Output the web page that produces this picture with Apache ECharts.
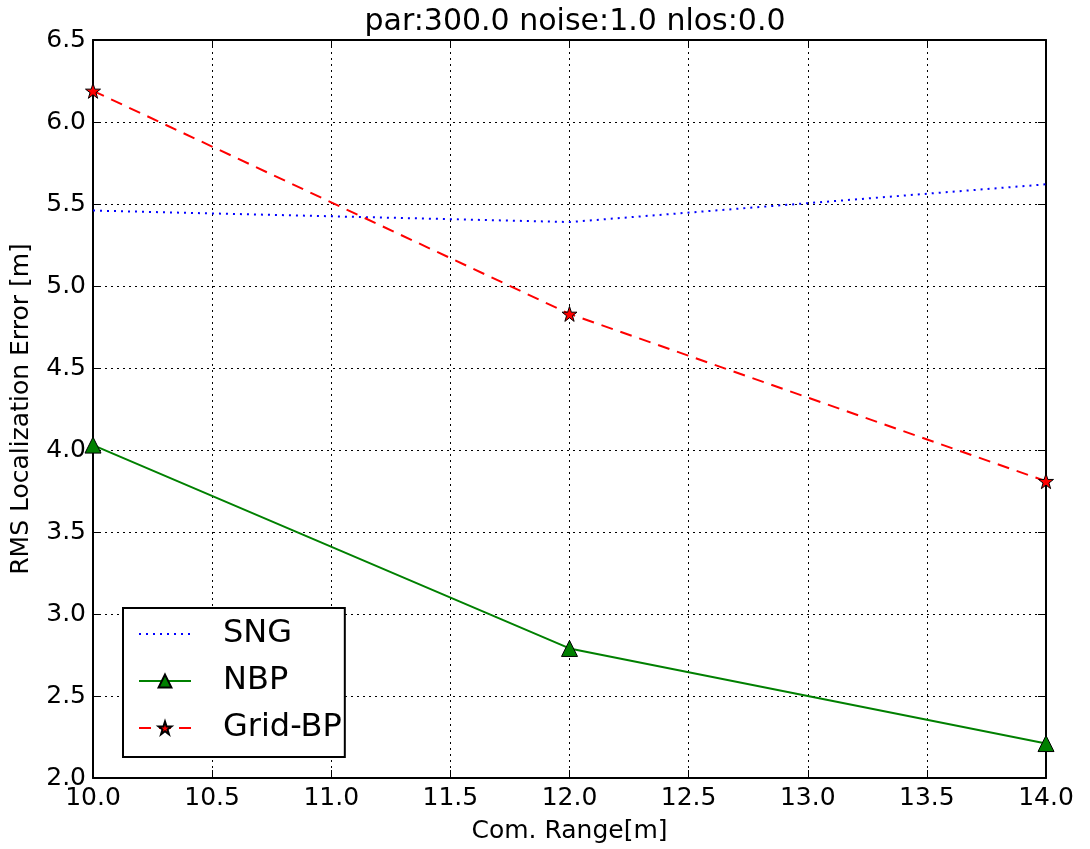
<!DOCTYPE html>
<html>
<head>
<meta charset="utf-8">
<script src="https://cdn.jsdelivr.net/npm/echarts@6/dist/echarts.min.js"></script>
<style>
    html, body { margin: 0; padding: 0; background: #fff; }
    #chart { width: 1090px; height: 849px; }
</style>
</head>
<body>
<div id="chart"></div>
<script>
// 数据
const ranges = [10, 12, 14];
const sng = [5.46, 5.39, 5.62];
const nbp = [4.03, 2.79, 2.21];
const gridBp = [6.19, 4.83, 3.81];

const pairs = (ys) => ranges.map((x, i) => [x, ys[i]]);

let myChart = echarts.init(document.getElementById("chart"));
const font = "DejaVu Sans";
let option = {
    animation: false,
    textStyle: { fontFamily: font },
    title: {
        text: "par:300.0 noise:1.0 nlos:0.0",
        left: 570,
        textAlign: "center",
        top: 2,
        textStyle: { fontFamily: font, fontSize: 30, fontWeight: "normal", color: "#000" }
    },
    grid: { left: 93, right: 44, top: 40, bottom: 71, containLabel: false, outerBoundsMode: "none" },
    legend: {
        orient: "vertical",
        left: 123,
        top: 608,
        padding: [10, 3, 13, 15],
        itemGap: 15,
        itemWidth: 52,
        itemHeight: 16,
        borderColor: "#000",
        borderWidth: 2,
        borderRadius: 0,
        backgroundColor: "#fff",
        textStyle: { fontFamily: font, fontSize: 32, lineHeight: 30, color: "#000", padding: [0, 0, 0, 27] },
        data: [
            { name: "SNG", itemStyle: { opacity: 0 } },
            "NBP",
            "Grid-BP"
        ]
    },
    xAxis: [{
        type: "value",
        min: 10, max: 14, interval: 0.5,
        name: "Com. Range[m]",
        nameLocation: "middle",
        nameGap: 41,
        nameTextStyle: { fontFamily: font, fontSize: 25, color: "#000" },
        axisLine: { lineStyle: { color: "#000", width: 2 } },
        axisTick: { inside: true, length: 8, lineStyle: { color: "#000", width: 1 } },
        axisLabel: { color: "#000", fontSize: 25, margin: 8, formatter: (v) => v.toFixed(1) },
        splitLine: { show: true, lineStyle: { color: "#000", width: 1, type: [2, 4] } }
    }, {
        type: "value",
        position: "top",
        min: 10, max: 14, interval: 0.5,
        axisLine: { lineStyle: { color: "#000", width: 2 } },
        axisTick: { inside: true, length: 8, lineStyle: { color: "#000", width: 1 } },
        axisLabel: { show: false },
        splitLine: { show: false }
    }],
    yAxis: [{
        type: "value",
        min: 2.0, max: 6.5, interval: 0.5,
        name: "RMS Localization Error [m]",
        nameLocation: "middle",
        nameGap: 59,
        nameTextStyle: { fontFamily: font, fontSize: 25, color: "#000" },
        axisLine: { show: true, lineStyle: { color: "#000", width: 2 } },
        axisTick: { show: true, inside: true, length: 8, lineStyle: { color: "#000", width: 1 } },
        axisLabel: { color: "#000", fontSize: 25, margin: 7, formatter: (v) => v.toFixed(1) },
        splitLine: { show: true, lineStyle: { color: "#000", width: 1, type: [2, 4] } }
    }, {
        type: "value",
        position: "right",
        min: 2.0, max: 6.5, interval: 0.5,
        axisLine: { show: true, lineStyle: { color: "#000", width: 2 } },
        axisTick: { show: true, inside: true, length: 8, lineStyle: { color: "#000", width: 1 } },
        axisLabel: { show: false },
        splitLine: { show: false }
    }],
    series: [
        {
            name: "SNG",
            type: "line",
            data: pairs(sng),
            showSymbol: false,
            symbol: "none",
            color: "#0000ff",
            lineStyle: { color: "#0000ff", width: 2, type: [2, 5] },
            z: 3
        },
        {
            name: "NBP",
            type: "line",
            data: pairs(nbp),
            symbol: "triangle",
            symbolSize: 16,
            color: "#008000",
            itemStyle: { color: "#008000", borderColor: "#000", borderWidth: 1 },
            lineStyle: { color: "#008000", width: 2 },
            z: 3
        },
        {
            name: "Grid-BP",
            type: "line",
            data: pairs(gridBp),
            symbol: "path://M50,0 L61.8,35.1 L97.6,35.1 L68.8,56.7 L79.4,90.9 L50,69.1 L20.6,90.9 L31.2,56.7 L2.4,35.1 L38.2,35.1 Z",
            symbolSize: 15,
            color: "#ff0000",
            itemStyle: { color: "#ff0000", borderColor: "#000", borderWidth: 1 },
            lineStyle: { color: "#ff0000", width: 2, type: [12, 8] },
            z: 3
        }
    ]
};
myChart.setOption(option);
</script>
</body>
</html>
